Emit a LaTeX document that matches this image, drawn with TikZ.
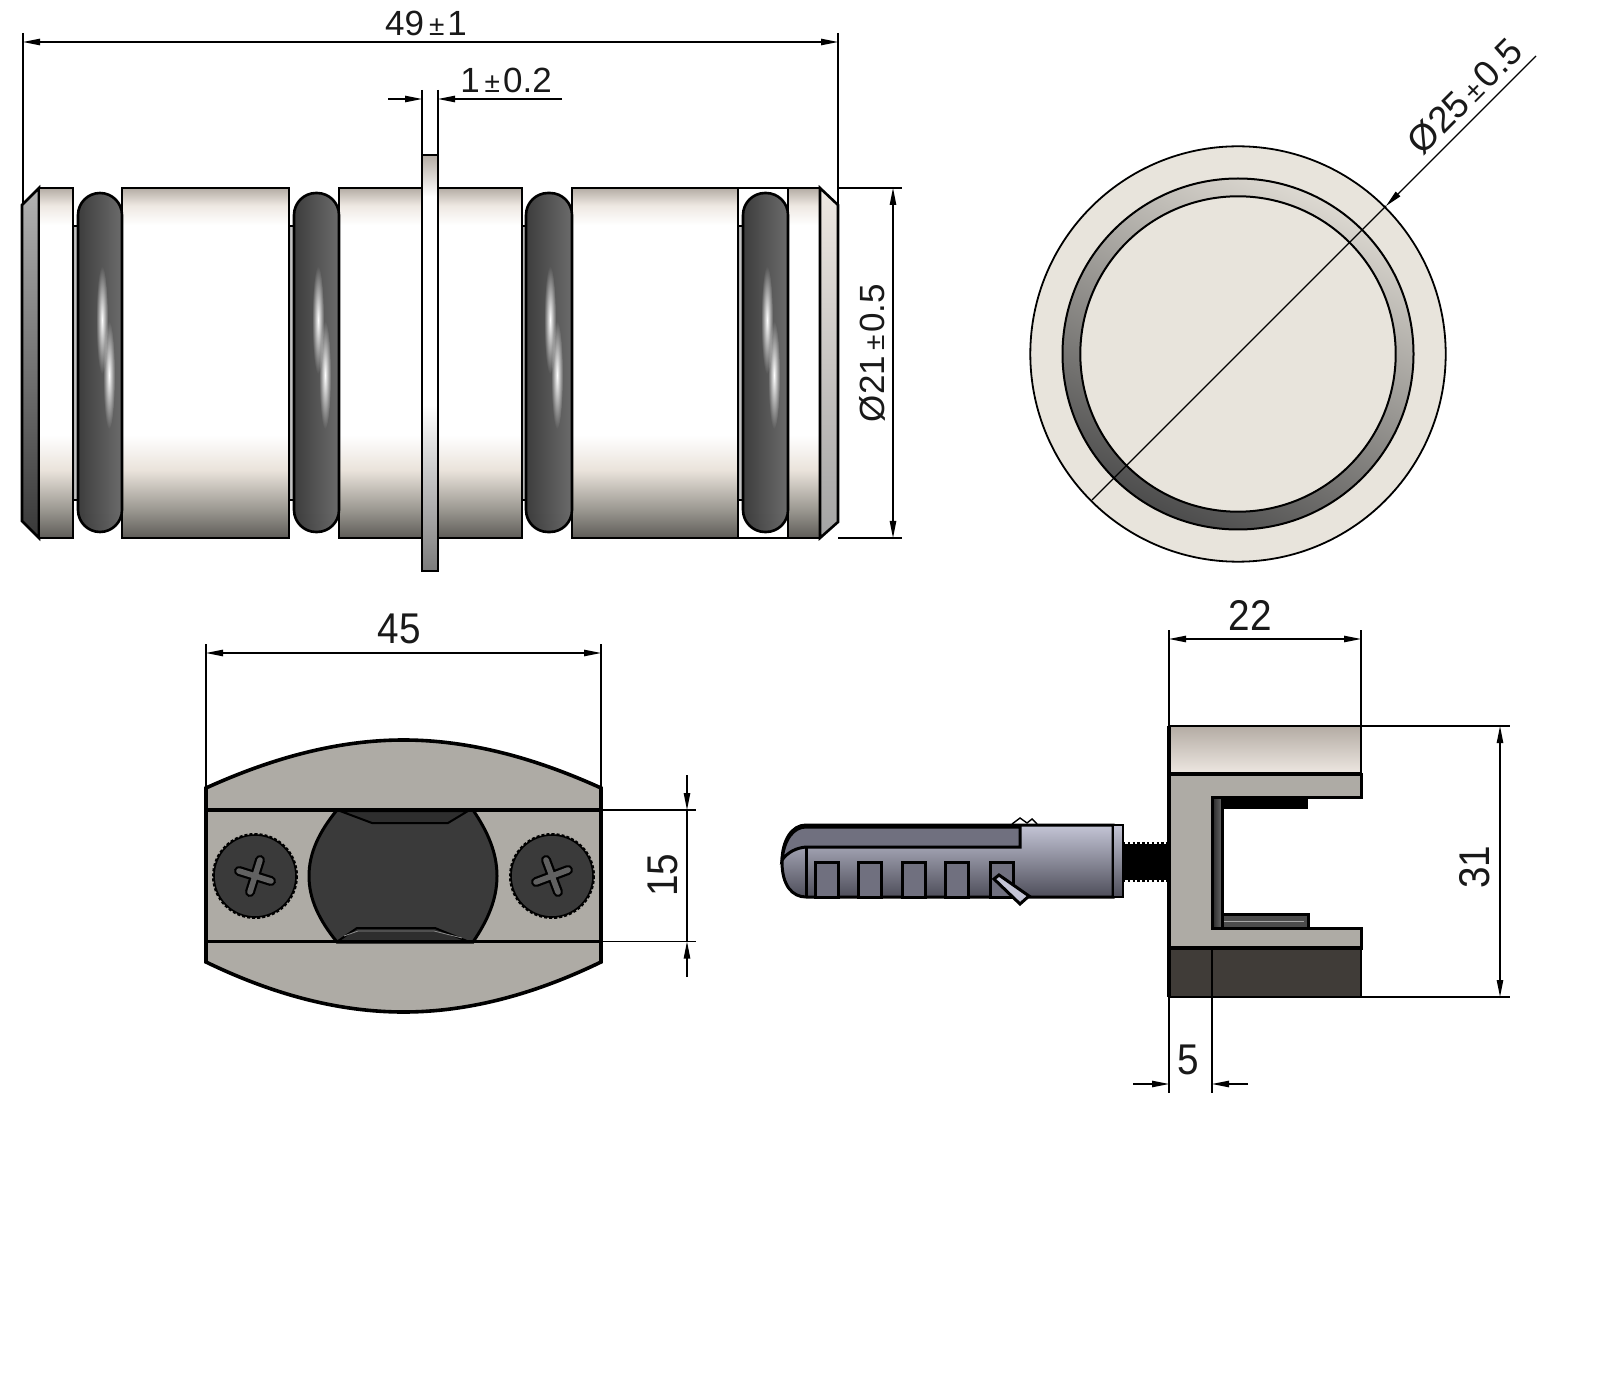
\documentclass[tikz,border=0pt]{standalone}
\usepackage{fontspec}
\setmainfont{Liberation Sans}
\usepackage{xcolor}
\usepackage{tikz}
\usetikzlibrary{arrows.meta, fadings}
\definecolor{steelgrey}{HTML}{AEABA5}
\definecolor{capbeige}{HTML}{E8E4DC}
\definecolor{rubberdark}{HTML}{3A3A3A}
\definecolor{blockdark}{HTML}{403C38}
\definecolor{plugblue}{HTML}{70707F}
\definecolor{plugtop}{HTML}{C4C5D6}
\definecolor{plugmid}{HTML}{B2B3C8}
\definecolor{plugbottom}{HTML}{4E4E5A}
\definecolor{edgetop}{HTML}{B4ACA4}
\definecolor{edgesoft}{HTML}{EEE8E2}
\definecolor{tansoft}{HTML}{EAE3DB}
\definecolor{tanmid}{HTML}{9A9790}
\definecolor{tandark}{HTML}{5E5C58}
\pgfdeclareverticalshading{bodyshade}{100bp}{color(0bp)=(tandark); color(25bp)=(tandark); color(29bp)=(tanmid); color(34.7bp)=(tansoft); color(39.7bp)=(white); color(69.7bp)=(white); color(72.5bp)=(edgesoft); color(75bp)=(edgetop); color(100bp)=(edgetop)}
\pgfdeclareverticalshading{flangeshade}{100bp}{color(0bp)=(black!52); color(25bp)=(black!52); color(45bp)=(white); color(70bp)=(white); color(75bp)=(edgetop); color(100bp)=(edgetop)}
\pgfdeclareverticalshading{ringendshade}{100bp}{color(0bp)=(black!40); color(14bp)=(black!88); color(28bp)=(black); color(88bp)=(black); color(100bp)=(black!70)}
\pgfdeclarefading{ringends}{\pgfuseshading{ringendshade}}
\tikzfading[name=glint, inner color=transparent!0, outer color=transparent!100]
\newcommand{\tolsign}{\hspace{2.5pt}{\fontsize{14}{14}\selectfont ±}\hspace{1.5pt}}
\tikzstyle{part} = [draw=black, line width=1.3pt, line join=miter]
\tikzstyle{body} = [part, shading=bodyshade]
\tikzstyle{oring} = [draw=black, line width=1.3pt, rounded corners=11pt, left color=black!76, middle color=black!46, right color=black!58]
\tikzstyle{ringshade} = [black, rounded corners=11pt, path fading=ringends]
\tikzstyle{shine} = [white, path fading=glint]
\tikzstyle{extline} = [black, line width=.6pt]
\tikzstyle{dimline} = [black, line width=.6pt, >={Stealth[length=8.5pt,width=3.2pt,inset=0pt]}]
\tikzstyle{dimtext} = [font=\fontsize{17.5}{17.5}\selectfont, text=black!90, inner sep=0pt]
\tikzstyle{bigtext} = [font=\fontsize{21.5}{21.5}\selectfont, text=black!90, inner sep=0pt]
\tikzstyle{plugpart} = [draw=black, line width=1.5pt]
\begin{document}
\begin{tikzpicture}[x=.5pt,y=-.5pt]
    \useasboundingbox (0,0) rectangle (1600,1395);
    % side view
    \fill[left color=black!35, right color=black!8] (73,226) rectangle (78,500);
    \fill[left color=black!35, right color=black!8] (289,226) rectangle (294,500);
    \fill[left color=black!35, right color=black!8] (522,226) rectangle (526,500);
    \fill[left color=black!35, right color=black!8] (738,226) rectangle (743,500);
    \draw[extline] (73,226) -- (78,226);
    \draw[extline] (73,500) -- (78,500);
    \draw[extline] (289,226) -- (294,226);
    \draw[extline] (289,500) -- (294,500);
    \draw[extline] (522,226) -- (526,226);
    \draw[extline] (522,500) -- (526,500);
    \draw[extline] (738,226) -- (743,226);
    \draw[extline] (738,500) -- (743,500);
    \draw[part, top color=black!30, middle color=black!26, bottom color=black!78] (22,205) -- (39,188) -- (39,538) -- (22,521) -- cycle;
    \draw[body] (39,188) rectangle (73,538);
    \draw[body] (122,188) rectangle (289,538);
    \draw[body] (339,188) rectangle (522,538);
    \draw[body] (572,188) rectangle (738,538);
    \draw[body] (788,188) rectangle (820,538);
    \draw[part, top color=edgesoft, middle color=white, bottom color=black!36] (820,188) -- (838,205) -- (838,522) -- (820,538) -- cycle;
    \draw[part] (738,188) -- (788,188);
    \draw[part] (738,538) -- (788,538);
    \draw[part, shading=flangeshade] (422,155) rectangle (438,571);
    % o-rings
    \draw[oring] (78,193) rectangle (122,532);
    \fill[ringshade] (78,193) rectangle (122,532);
    \fill[shine] (102,320) ellipse [x radius=6, y radius=54];
    \fill[shine] (109,375) ellipse [x radius=6, y radius=54];
    \draw[oring] (294,193) rectangle (339,532);
    \fill[ringshade] (294,193) rectangle (339,532);
    \fill[shine] (318,320) ellipse [x radius=6, y radius=54];
    \fill[shine] (325,375) ellipse [x radius=6, y radius=54];
    \draw[oring] (526,193) rectangle (572,532);
    \fill[ringshade] (526,193) rectangle (572,532);
    \fill[shine] (550,320) ellipse [x radius=6, y radius=54];
    \fill[shine] (557,375) ellipse [x radius=6, y radius=54];
    \draw[oring] (743,193) rectangle (788,532);
    \fill[ringshade] (743,193) rectangle (788,532);
    \fill[shine] (767,320) ellipse [x radius=6, y radius=54];
    \fill[shine] (774,375) ellipse [x radius=6, y radius=54];
    % side view dimensions
    \draw[extline] (23,33) -- (23,205);
    \draw[extline] (838,33) -- (838,205);
    \draw[dimline,<->] (23,42) -- (838,42);
    \node[dimtext] (total) at (426,23) {49\tolsign 1};
    \draw[extline] (422,90) -- (422,155);
    \draw[extline] (438,90) -- (438,155);
    \draw[dimline,->] (388,99) -- (422,99);
    \draw[dimline,->] (562,99) -- (438,99);
    \node[dimtext] (flange) at (506,80) {1\tolsign 0.2};
    \draw[extline] (838,188) -- (902,188);
    \draw[extline] (838,538) -- (902,538);
    \draw[dimline,<->] (893,188) -- (893,538);
    \node[dimtext,rotate=90] (bore) at (872,353) {Ø21\tolsign 0.5};
    % front view
    \draw[line width=.9pt, fill=capbeige] (1238,354) circle [radius=207.7];
    \draw[line width=1pt, top color=capbeige!95!black, middle color=black!24, bottom color=black!70, shading angle=-25] (1238,354) circle [radius=175.5];
    \draw[line width=1pt, fill=capbeige] (1238,354) circle [radius=157.7];
    \draw[dimline,->] (1536,56) -- (1386,206);
    \draw[extline] (1386,206) -- (1092,500);
    \node[dimtext,font=\fontsize{18.5}{18.5}\selectfont,rotate=45] (dia) at (1465,96) {Ø25\tolsign 0.5};
    % screw plate
    \draw[line width=1.8pt, fill=steelgrey] (206,788) .. controls (272,758) and (338,740) .. (403.5,740) .. controls (469,740) and (535,758) .. (601,788) -- (601,962) .. controls (535,994) and (469,1012) .. (403.5,1012) .. controls (338,1012) and (272,994) .. (206,962) -- cycle;
    \draw[line width=1.5pt, fill=rubberdark] (337,810) .. controls (319,832) and (309,853) .. (309,876) .. controls (309,899) and (319,920) .. (337,942) -- (473,942) .. controls (488,920) and (497,899) .. (497,876) .. controls (497,853) and (488,832) .. (473,810) -- cycle;
    \draw[line width=1pt, fill=black!82] (340,811) -- (372,823) -- (448,823) -- (468,811) -- cycle;
    \draw[line width=1pt, draw=black, fill=black!82] (338,941) -- (357,928) -- (435,928) -- (467,941) -- cycle;
    \draw[line width=.4pt, black!45] (344,936) -- (358,931) -- (434,931) -- (462,938);
    \draw[line width=1.9pt] (206,810) -- (601,810);
    \draw[line width=1.9pt] (206,941.5) -- (601,941.5);
    \draw[line width=1.5pt, fill=rubberdark, densely dotted] (255,876) circle [radius=41.5];
    \draw[line width=.8pt, fill=rubberdark] (255,876) circle [radius=41];
    \draw[line width=5pt, line cap=round, black] (260,860) -- (250,892);
    \draw[line width=5pt, line cap=round, black] (239,871) -- (271,881);
    \draw[line width=2.8pt, line cap=round, black!62] (260,860) -- (250,892);
    \draw[line width=2.8pt, line cap=round, black!62] (239,871) -- (271,881);
    \draw[line width=1.5pt, fill=rubberdark, densely dotted] (552,876) circle [radius=41.5];
    \draw[line width=.8pt, fill=rubberdark] (552,876) circle [radius=41];
    \draw[line width=5pt, line cap=round, black] (546,860) -- (558,892);
    \draw[line width=5pt, line cap=round, black] (536,882) -- (568,870);
    \draw[line width=2.8pt, line cap=round, black!62] (546,860) -- (558,892);
    \draw[line width=2.8pt, line cap=round, black!62] (536,882) -- (568,870);
    % screw plate dimensions
    \draw[extline] (206,644) -- (206,788);
    \draw[extline] (601,644) -- (601,788);
    \draw[dimline,<->] (206,653) -- (601,653);
    \node[bigtext] (width) at (399,629) {\scalebox{.9}[1]{45}};
    \draw[extline] (601,810) -- (696,810);
    \draw[extline] (601,941.5) -- (696,941.5);
    \draw[dimline,->] (687,775) -- (687,810);
    \draw[dimline,->] (687,977) -- (687,941.5);
    \draw[extline] (687,810) -- (687,941.5);
    \node[bigtext,rotate=90] (slot) at (663,875) {\scalebox{.9}[1]{15}};
    % wall plug
    \fill[black] (1113,844) rectangle (1169,880);
    \draw[line width=1.1pt, dash pattern=on 1.2pt off 1.2pt] (1123,843) -- (1168,843);
    \draw[line width=1.1pt, dash pattern=on 1.2pt off 1.2pt] (1123,881) -- (1168,881);
    \draw[line width=.7pt] (1012,824) -- (1020,818) -- (1027,823) -- (1032,819) -- (1037,824);
    \draw[plugpart, top color=plugtop, middle color=plugmid, bottom color=plugbottom] (806,825) -- (1113,825) -- (1113,897) -- (806,897) .. controls (792,897) and (782,885) .. (782,862) .. controls (782,840) and (792,825) .. (806,825) -- cycle;
    \draw[plugpart, fill=plugblue] (1020,827) -- (806,827) .. controls (793,827) and (784,840) .. (782,860) .. controls (788,852) and (796,848) .. (806,847) -- (1020,847) -- cycle;
    \draw[plugpart] (806,847) -- (806,897);
    \draw[plugpart, fill=plugblue] (815,897) rectangle (838,862);
    \draw[plugpart, fill=plugblue] (858,897) rectangle (881,862);
    \draw[plugpart, fill=plugblue] (902,897) rectangle (925,862);
    \draw[plugpart, fill=plugblue] (945,897) rectangle (968,862);
    \draw[plugpart, fill=plugblue] (990,897) rectangle (1013,862);
    \draw[plugpart, fill=plugtop] (994,879) -- (999,875) -- (1029,896) -- (1020,904) -- cycle;
    \draw[line width=1pt, top color=plugtop, bottom color=plugbottom] (1113,825) rectangle (1123,897);
    % clamp
    \draw[line width=1.5pt, fill=steelgrey] (1169,774) -- (1361,774) -- (1361,797) -- (1212,797) -- (1212,928) -- (1361,928) -- (1361,948) -- (1169,948) -- cycle;
    \fill[black] (1212,797) rectangle (1308,809);
    \draw[line width=1.5pt, left color=black!85, right color=black!60, middle color=black!72] (1212,797) rectangle (1222,928);
    \draw[line width=1.5pt, fill=black!70] (1222,914) rectangle (1308,928);
    \draw[line width=.5pt, black!35] (1224,921) -- (1304,921);
    \draw[line width=.8pt, top color=edgetop, bottom color=edgesoft] (1169,726) rectangle (1361,774);
    \draw[line width=2pt] (1169,774) -- (1361,774);
    \draw[line width=.8pt, fill=blockdark] (1169,948) rectangle (1361,997);
    \draw[line width=1.8pt] (1169,948) -- (1361,948);
    \draw[line width=1.8pt] (1169,726) -- (1169,997);
    % clamp dimensions
    \draw[extline] (1169,630) -- (1169,726);
    \draw[extline] (1361,630) -- (1361,726);
    \draw[dimline,<->] (1169,639) -- (1361,639);
    \node[bigtext] (depth) at (1250,615) {\scalebox{.9}[1]{22}};
    \draw[extline] (1361,726) -- (1510,726);
    \draw[extline] (1361,997) -- (1510,997);
    \draw[dimline,<->] (1500,726) -- (1500,997);
    \node[bigtext,rotate=90] (height) at (1475,867) {\scalebox{.9}[1]{31}};
    \draw[extline] (1169,997) -- (1169,1093);
    \draw[extline] (1212,948) -- (1212,1093);
    \draw[dimline,->] (1133,1084) -- (1169,1084);
    \draw[dimline,->] (1248,1084) -- (1212,1084);
    \node[bigtext] (wall) at (1188,1060) {\scalebox{.9}[1]{5}};
\end{tikzpicture}
\end{document}
